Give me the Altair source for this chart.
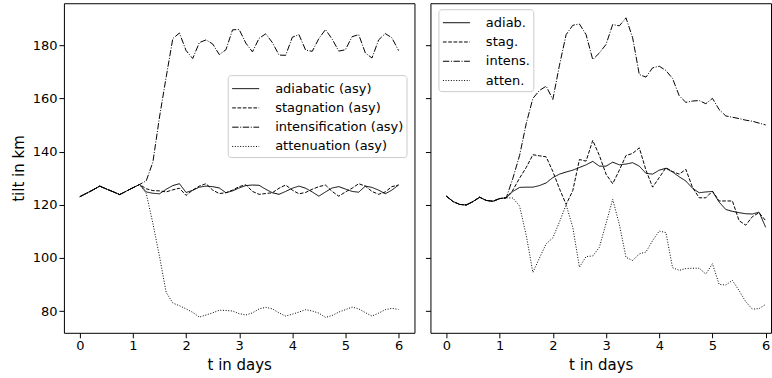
import altair as alt
import pandas as pd

# time axis (days), 3-hourly output
t = [0.0, 0.125, 0.25, 0.375, 0.5, 0.625, 0.75, 0.875, 1.0, 1.125,
     1.25, 1.375, 1.5, 1.625, 1.75, 1.875, 2.0, 2.125, 2.25, 2.375,
     2.5, 2.625, 2.75, 2.875, 3.0, 3.125, 3.25, 3.375, 3.5, 3.625,
     3.75, 3.875, 4.0, 4.125, 4.25, 4.375, 4.5, 4.625, 4.75, 4.875,
     5.0, 5.125, 5.25, 5.375, 5.5, 5.625, 5.75, 5.875, 6.0]

# ---------- left panel (asymptotic) ----------
left_start = [123, 124.3, 125.6, 127, 125.9, 124.9, 123.8, 125.1, 126.4, 127.6]
left_adiabatic = left_start + [
    124.8, 124.3, 124.1, 125.8, 127.2, 127.9, 124.6, 125.4, 126.6, 127,
    126.8, 126.3, 124.5, 125.2, 126.3, 127.2, 127.4, 127.3, 125.8, 124.5,
    123.9, 125, 126.2, 127, 126.2, 124.8, 123.2, 124.8, 126.3, 126.8,
    125.9, 125, 124.7, 127, 126.5, 125.5, 124.1, 125.5, 127.4]
left_stagnation = left_start + [
    126, 125.3, 125.2, 124.8, 125.6, 126.2, 123.5, 125.5, 127, 127.9,
    125.5, 124.2, 124.5, 125.5, 126.8, 127.5, 125, 123.9, 124.2, 124.5,
    126.2, 127.4, 125.5, 124.1, 124.6, 125.8, 126.8, 127.4, 125, 123.2,
    124.8, 126.2, 127.9, 127, 125, 123.9, 124.8, 126.8, 127.4]
left_intensification = left_start + [
    129, 136, 153, 168, 182.5, 184.6, 178, 175, 181, 182,
    180.5, 176.5, 178.3, 185.8, 185.9, 180.8, 177.5, 182.6, 184.3, 181,
    176.3, 176.2, 183, 184, 178.2, 177.7, 182.5, 185.9, 182.3, 177.8,
    178.3, 183.2, 184, 177.1, 175.2, 182, 184.4, 182.8, 178]
left_attenuation = left_start + [
    124.2, 113, 100.5, 87, 83, 82, 80.8, 79.5, 77.7, 78.5,
    79.3, 80.3, 80.2, 80, 79, 78.5, 79.3, 80.8, 81.4, 80.8,
    79.3, 78.1, 78.8, 79.6, 80.5, 80, 79.2, 77.6, 78.3, 79.6,
    80.5, 81.5, 80.8, 79.4, 78.1, 79.2, 80.5, 81, 80.6]
left_labels = ["adiabatic (asy)", "stagnation (asy)",
               "intensification (asy)", "attenuation (asy)"]

# ---------- right panel ----------
right_start = [123.2, 121.2, 120.1, 119.9, 121.2, 122.8, 121.6, 121.3, 122.3, 122.6]
right_adiab = right_start + [
    125, 126.5, 126.6, 126.6, 127.2, 128.2, 130.2, 131.5, 132.3, 133,
    134, 135, 136.3, 134.5, 134.5, 136, 135, 135.3, 135.8, 134.5,
    131.8, 131.5, 133, 133.7, 132.3, 130.5, 128.9, 126.2, 124.5, 124.8,
    125, 121, 118.2, 117.5, 117, 116.6, 116.5, 117.2, 111.5]
right_stag = right_start + [
    125.5, 130, 134, 138.8, 138.4, 138, 132.5, 126, 120.1, 125.3,
    137, 136.4, 144.2, 138.5, 131.5, 127.9, 133, 138.5, 139.3, 141.4,
    133, 126.6, 130.2, 133.9, 132.5, 131.5, 133.3, 126.5, 122.6, 122.6,
    125.1, 121.4, 121.4, 121.4, 114, 112.3, 115.5, 117, 114]
right_intens = right_start + [
    130, 138.5, 150.5, 160, 163, 164.6, 159.6, 172.5, 184, 187.5,
    188, 184, 174.6, 177.1, 180.3, 187.8, 187.3, 190.3, 182.8, 169,
    168, 171.5, 172.1, 170.5, 167.5, 161, 158.5, 159, 159.2, 158,
    160, 155.8, 153.4, 152.9, 152.4, 151.8, 151.4, 150.7, 150]
right_atten = right_start + [
    122.5, 119.5, 108.5, 94.5, 100, 105.3, 107.5, 113.5, 120, 111.5,
    96.5, 100.5, 100.7, 104, 113, 122, 112.6, 100.2, 99, 101.5,
    102.2, 106.5, 110.1, 109.5, 96.3, 95.3, 96, 96.1, 96.1, 93.9,
    97.8, 90, 89.8, 91.5, 87.7, 83.5, 80.7, 80.9, 82.5]
right_labels = ["adiab.", "stag.", "intens.", "atten."]

x_ticks = [0, 1, 2, 3, 4, 5, 6]
y_ticks = [80, 100, 120, 140, 160, 180]
dashes = [[1, 0], [3.7, 1.6], [6.4, 1.6, 1, 1.6], [1, 1.65]]


def make_df(labels, series):
    rows = []
    for lab, vals in zip(labels, series):
        for ti, v in zip(t, vals):
            rows.append({"t": ti, "v": v, "series": lab})
    return pd.DataFrame(rows)


def panel(df, labels, width, xmax, show_ylab, lx, ly):
    if show_ylab:
        yaxis = alt.Axis(values=y_ticks, title="tilt in km", titlePadding=6)
    else:
        yaxis = alt.Axis(values=y_ticks, title=None, labels=False)
    return alt.Chart(df).mark_line(strokeWidth=1, color="black", clip=True).encode(
        x=alt.X("t:Q", scale=alt.Scale(domain=[-0.3, xmax], nice=False, zero=False),
                axis=alt.Axis(values=x_ticks, title="t in days", titlePadding=5)),
        y=alt.Y("v:Q", scale=alt.Scale(domain=[71.8, 195.8], nice=False, zero=False),
                axis=yaxis),
        strokeDash=alt.StrokeDash(
            "series:N",
            scale=alt.Scale(domain=labels, range=dashes),
            legend=alt.Legend(
                title=None, orient="none", legendX=lx, legendY=ly,
                symbolType="M-1.35,0H1.35", symbolSize=400,
                symbolStrokeWidth=1, symbolStrokeColor="black",
                symbolFillColor="transparent", symbolOffset=4.5,
                labelOffset=19, labelFontSize=13, labelFont="DejaVu Sans",
                labelColor="black",
                fillColor="white", strokeColor="#cccccc", cornerRadius=3,
                padding=3, rowPadding=1.3,
            ),
        ),
    ).properties(width=width, height=330)


left = panel(make_df(left_labels, [left_adiabatic, left_stagnation,
                                   left_intensification, left_attenuation]),
             left_labels, 351, 6.3, True, 164, 72)
right = panel(make_df(right_labels, [right_adiab, right_stag,
                                     right_intens, right_atten]),
              right_labels, 341, 6.1, False, 8, 6)

chart = alt.hconcat(left, right, spacing=16, bounds="flush").resolve_scale(
    strokeDash="independent"
).resolve_legend(strokeDash="independent").properties(
    padding={"left": 10, "top": 2, "right": 0, "bottom": 0},
    background="white",
).configure_view(
    stroke="black", strokeWidth=1
).configure_axis(
    domain=False, grid=False, tickColor="black", tickSize=5, tickWidth=1,
    labelFont="DejaVu Sans", titleFont="DejaVu Sans", labelFontSize=13,
    titleFontSize=15, titleFontWeight="normal", labelColor="black",
    titleColor="black", labelPadding=2,
)

chart.save("out.html", embed_options={"renderer": "svg", "actions": False})
